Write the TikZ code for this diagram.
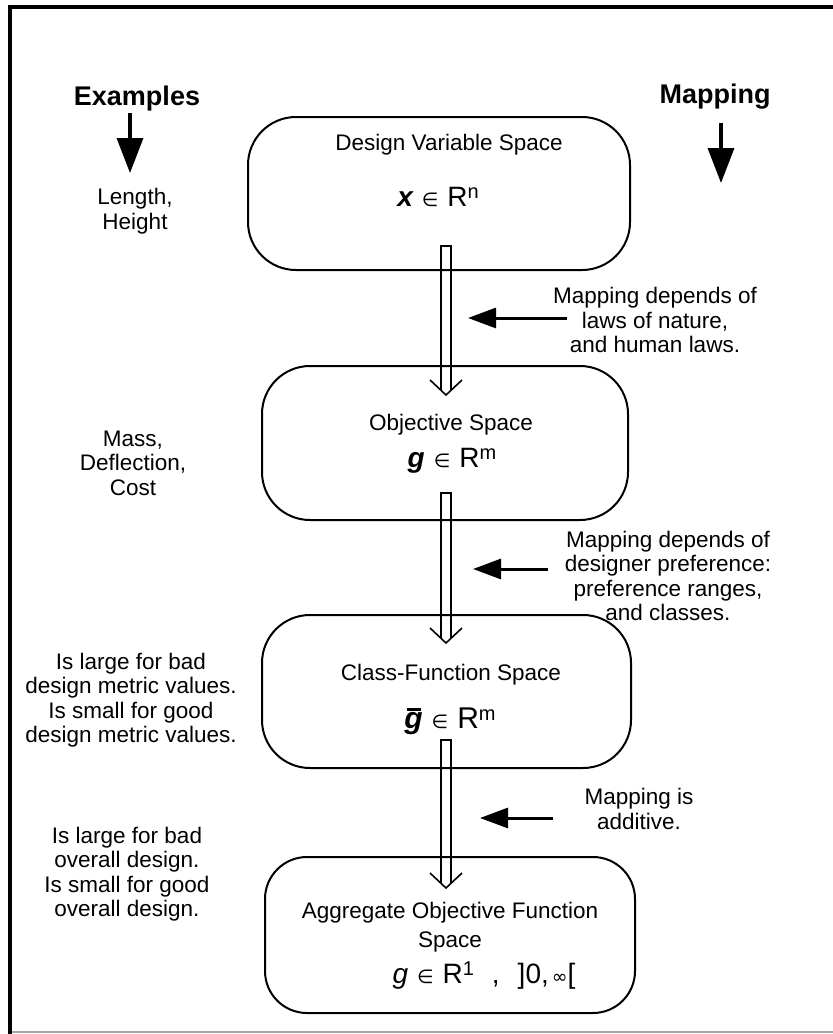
\documentclass[tikz,border=0pt]{standalone}
\usepackage{fontspec}
\setmainfont{Liberation Sans}
\newfontfamily\symfont{DejaVu Sans}
\usetikzlibrary{arrows.meta,calc}
\newcommand\spacefml[2]{#1\hspace{9pt}{\symfont\fontsize{19}{19}\selectfont ∈}\hspace{9pt}R\raisebox{8pt}{\fontsize{20}{20}\selectfont #2}}
\newcommand\gbarsym{\ooalign{{\bfseries\itshape g}\cr\hidewidth\rule[17pt]{14pt}{2.8pt}\hidewidth\cr}}
\newcommand\dblarrow[2]{%
  \draw[dbl] ($(#2)+(-5,-5)$) -- ($(#1)+(-5,0)$) -- ($(#1)+(5,0)$) -- ($(#2)+(5,-5)$);
  \draw[dbl] ($(#2)+(-16,-15)$) -- (#2) -- ($(#2)+(16,-15)$);}
\begin{document}
\begin{tikzpicture}[x=1pt,y=-1pt,
  every node/.style={inner sep=0pt,outer sep=0pt},
  txt/.style={font=\fontsize{22.5}{24.5}\selectfont, align=center},
  ttl/.style={font=\fontsize{27}{30}\selectfont\bfseries, anchor=base},
  fml/.style={font=\fontsize{28}{30}\selectfont, anchor=base},
  spacebox/.style={draw, line width=2pt, rounded corners=48pt},
  dbl/.style={line width=1.6pt, line join=miter},
  vblk/.style={line width=3.5pt, -{Triangle[length=35pt,width=26pt]}},
  hblk/.style={line width=3pt, -{Triangle[length=28pt,width=20pt]}}
]
\useasboundingbox (0,0) rectangle (833,1034);
% frame
\draw[line width=4pt] (10,1034) -- (10,7) -- (840,7);
\draw[gray!70, line width=2pt] (12,1032) -- (840,1032);

% titles
\node[ttl] (ex) at (137,105) {Examples};
\node[ttl] (mp) at (715,103) {Mapping};
\coordinate (ex0) at (130,113);
\coordinate (ex1) at (130,173);
\coordinate (mp0) at (721,123);
\coordinate (mp1) at (721,183);
\draw[vblk] (ex0) -- (ex1);
\draw[vblk] (mp0) -- (mp1);

% boxes
\node[spacebox, minimum width=382pt, minimum height=153pt] (b1) at (439,193.5) {};
\node[spacebox, minimum width=366pt, minimum height=154pt] (b2) at (445,443) {};
\node[spacebox, minimum width=369pt, minimum height=153pt] (b3) at (446.5,691.5) {};
\node[spacebox, minimum width=370pt, minimum height=156pt, rounded corners=42pt] (b4) at (450,935) {};

% box texts
\node[txt, anchor=base] (t1) at (449,150) {Design Variable Space};
\node[fml] (f1) at (438,206) {\spacefml{{\bfseries\itshape x}}{n}};
\node[txt, anchor=base] (t2) at (451,430) {Objective Space};
\node[fml] (f2) at (452,467) {\spacefml{{\bfseries\itshape g}}{m}};
\node[txt, anchor=base] (t3) at (451,680) {Class-Function Space};
\node[fml, font=\fontsize{30}{32}\selectfont] (f3) at (450,728) {\spacefml{\gbarsym}{m}};
\node[txt, anchor=base] (t4a) at (450,918) {Aggregate Objective Function};
\node[txt, anchor=base] (t4b) at (450,947) {Space};
\node[fml] (f4) at (484,983) {{\itshape g}\hspace{9pt}{\symfont\fontsize{19}{19}\selectfont ∈}\hspace{9pt}R\raisebox{8pt}{\fontsize{20}{20}\selectfont 1}\hspace{18pt},\hspace{18pt}]0,\hspace{3pt}{\symfont\fontsize{19}{19}\selectfont ∞}[};

% double arrows
\coordinate (d1s) at (446,246); \coordinate (d1t) at (446,395);
\coordinate (d2s) at (446,493); \coordinate (d2t) at (446,643);
\coordinate (d3s) at (446,740); \coordinate (d3t) at (446,888);
\dblarrow{d1s}{d1t}
\dblarrow{d2s}{d2t}
\dblarrow{d3s}{d3t}

% left labels
\node[txt] (l1) at (135,211) {Length,\\Height};
\node[txt] (l2) at (133,463) {Mass,\\Deflection,\\Cost};
\node[txt] (l3) at (131,700) {Is large for bad\\design metric values.\\Is small for good\\design metric values.};
\node[txt] (l4) at (127,874) {Is large for bad\\overall design.\\Is small for good\\overall design.};

% right labels and arrows
\node[txt] (r1) at (655,320) {Mapping depends of\\laws of nature,\\and human laws.};
\node[txt] (r2) at (668,576) {Mapping depends of\\designer preference:\\preference ranges,\\and classes.};
\node[txt] (r3) at (639,809) {Mapping is\\additive.};
\coordinate (h1s) at (567,318); \coordinate (h1t) at (468,318);
\coordinate (h2s) at (548,569); \coordinate (h2t) at (473,569);
\coordinate (h3s) at (553,818); \coordinate (h3t) at (480,818);
\draw[hblk] (h1s) -- (h1t);
\draw[hblk] (h2s) -- (h2t);
\draw[hblk] (h3s) -- (h3t);
\end{tikzpicture}
\end{document}
